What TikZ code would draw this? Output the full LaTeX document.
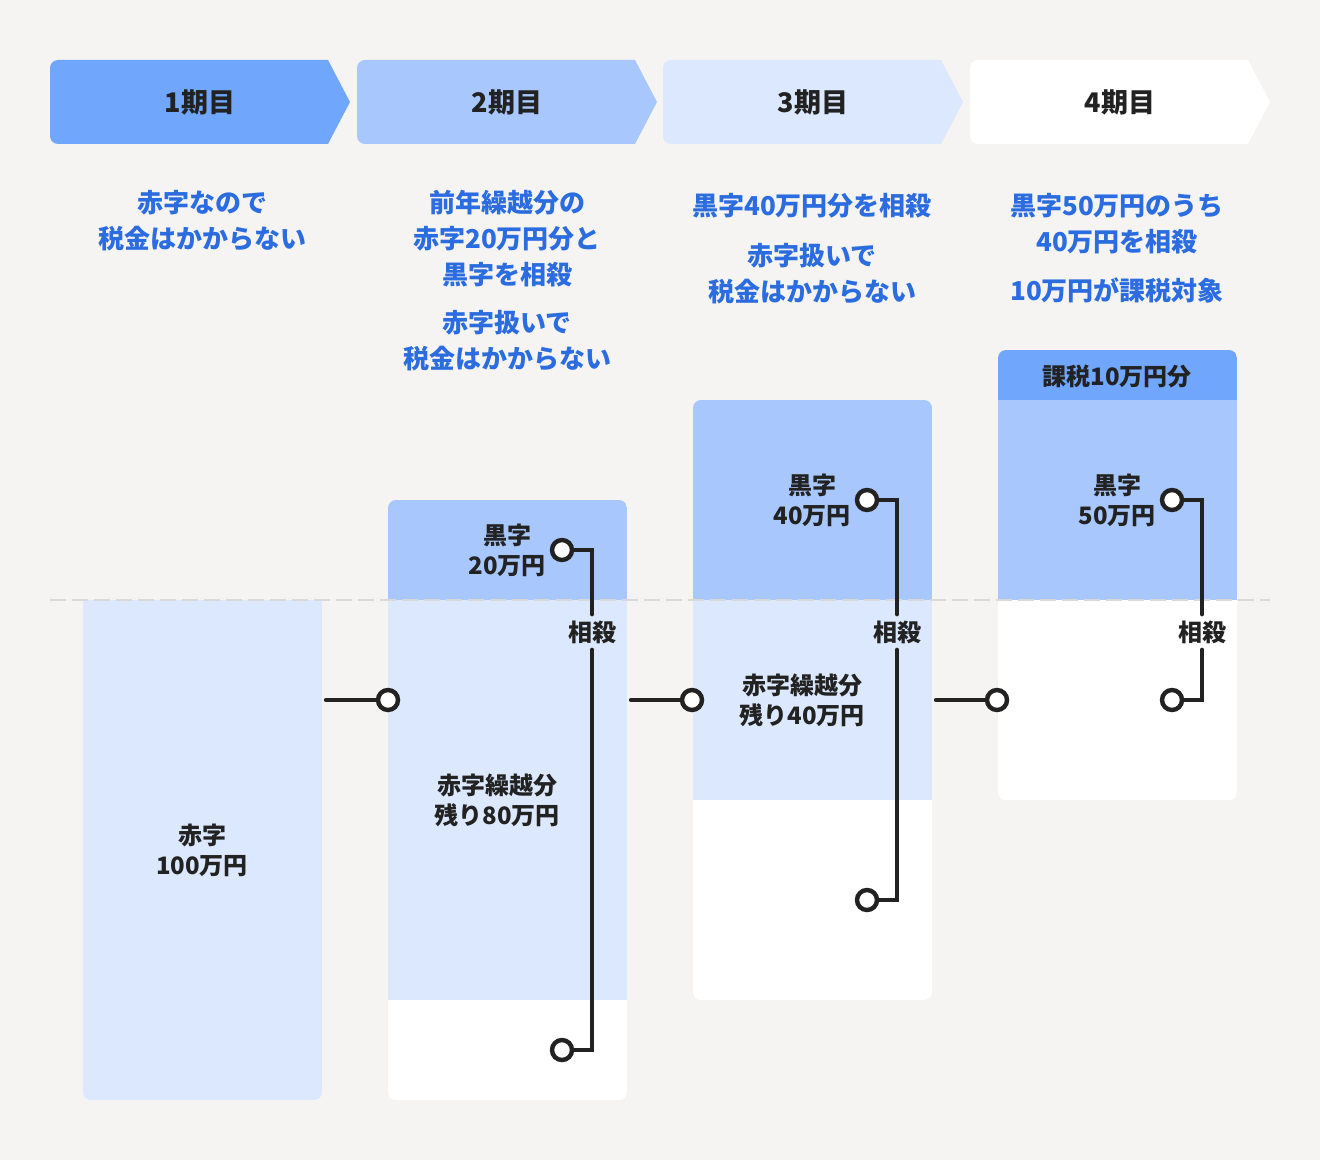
\documentclass[tikz,border=0pt]{standalone}
\usepackage{fontspec}
\setmainfont{Noto Sans CJK JP}
\usetikzlibrary{positioning}
\definecolor{bgpaper}{HTML}{F5F4F2}
\definecolor{myblue}{HTML}{70A6FC}
\definecolor{mymidblue}{HTML}{A8C8FD}
\definecolor{mylightblue}{HTML}{DCE8FD}
\definecolor{mytext}{HTML}{222222}
\definecolor{myaccent}{HTML}{2B6DE0}
\definecolor{mydash}{HTML}{D9D9D9}
\tikzset{
  period/.style={font=\fontsize{13.5}{16}\selectfont\bfseries, text=mytext},
  note/.style={font=\fontsize{13}{18}\selectfont\bfseries, text=myaccent, align=center, inner sep=0},
  label bar/.style={font=\fontsize{12}{15}\selectfont\bfseries, text=mytext, align=center, inner sep=0},
  offset/.style={label bar, inner sep=3pt},
  dot/.style={circle, draw=mytext, fill=white, line width=2.2pt, minimum size=10pt, inner sep=0},
  connect/.style={line width=2.2pt, mytext, line cap=round},
  borderline/.style={mydash, line width=1pt, dash pattern=on 8pt off 3pt}
}

\begin{document}
\begin{tikzpicture}[x=0.5pt, y=-0.5pt]
    \fill[bgpaper] (0,0) rectangle (1320,1160);
    \useasboundingbox (0,0) rectangle (1320,1160);

    % period headers
    \foreach \i/\c/\x in {1/myblue/50, 2/mymidblue/357, 3/mylightblue/663, 4/white/970} {
        \fill[\c] (\x+278,60) -- (\x+300,102) -- (\x+278,144) -- (\x+100,144)
            [rounded corners=4pt] -- (\x,144) -- (\x,60) -- (\x+100,60) [sharp corners] -- cycle;
        \node[period] (p\i) at (\x+150,102) {\i{}期目};
    }

    % notes
    \node[note] (n1) at (202,221) {赤字なので\\税金はかからない};
    \node[note] (n2) at (507,239) {前年繰越分の\\赤字20万円分と\\黒字を相殺};
    \node[note] (m2) at (507,341) {赤字扱いで\\税金はかからない};
    \node[note] (n3) at (812,206) {黒字40万円分を相殺};
    \node[note] (m3) at (812,273.5) {赤字扱いで\\税金はかからない};
    \node[note] (n4) at (1117,223.5) {黒字50万円のうち\\40万円を相殺};
    \node[note] (m4) at (1117,290) {10万円が課税対象};

    % bars
    \begin{scope}
        \clip[rounded corners=4pt] (83,560) rectangle (322,1100);
        \fill[mylightblue] (83,600) rectangle (322,1100);
    \end{scope}
    \begin{scope}
        \clip[rounded corners=4pt] (388,500) rectangle (627,1100);
        \fill[mymidblue] (388,500) rectangle (627,600);
        \fill[mylightblue] (388,600) rectangle (627,1000);
        \fill[white] (388,1000) rectangle (627,1100);
    \end{scope}
    \begin{scope}
        \clip[rounded corners=4pt] (693,400) rectangle (932,1000);
        \fill[mymidblue] (693,400) rectangle (932,600);
        \fill[mylightblue] (693,600) rectangle (932,800);
        \fill[white] (693,800) rectangle (932,1000);
    \end{scope}
    \begin{scope}
        \clip[rounded corners=4pt] (998,350) rectangle (1237,800);
        \fill[myblue] (998,350) rectangle (1237,400);
        \fill[mymidblue] (998,400) rectangle (1237,600);
        \fill[white] (998,600) rectangle (1237,800);
    \end{scope}
    \draw[borderline] (50,600) -- (1270,600);

    % period 1
    \node[label bar] (d1) at (202,850) {赤字\\100万円};
    \coordinate (o1) at (326,700);

    % period 2
    \node[label bar] (b2) at (507,550) {黒字\\20万円};
    \node[label bar] (d2) at (497,800) {赤字繰越分\\残り80万円};
    \node[offset] (s2) at (592,632) {相殺};
    \node[dot] (k2) at (562,550) {};
    \node[dot] (r2) at (562,1050) {};
    \node[dot] (e2) at (388,700) {};
    \coordinate (o2) at (631,700);

    % period 3
    \node[label bar] (b3) at (812,500) {黒字\\40万円};
    \node[label bar] (d3) at (802,700) {赤字繰越分\\残り40万円};
    \node[offset] (s3) at (897,632) {相殺};
    \node[dot] (k3) at (867,500) {};
    \node[dot] (r3) at (867,900) {};
    \node[dot] (e3) at (692,700) {};
    \coordinate (o3) at (936,700);

    % period 4
    \node[label bar] (t4) at (1117,376) {課税10万円分};
    \node[label bar] (b4) at (1117,500) {黒字\\50万円};
    \node[offset] (s4) at (1202,632) {相殺};
    \node[dot] (k4) at (1172,500) {};
    \node[dot] (r4) at (1172,700) {};
    \node[dot] (e4) at (997,700) {};

    % connectors
    \draw[connect] (o1) -- (e2);
    \draw[connect] (o2) -- (e3);
    \draw[connect] (o3) -- (e4);
    \draw[connect] (k2) -| (s2.north);
    \draw[connect] (s2.south) |- (r2);
    \draw[connect] (k3) -| (s3.north);
    \draw[connect] (s3.south) |- (r3);
    \draw[connect] (k4) -| (s4.north);
    \draw[connect] (s4.south) |- (r4);
\end{tikzpicture}
\end{document}
